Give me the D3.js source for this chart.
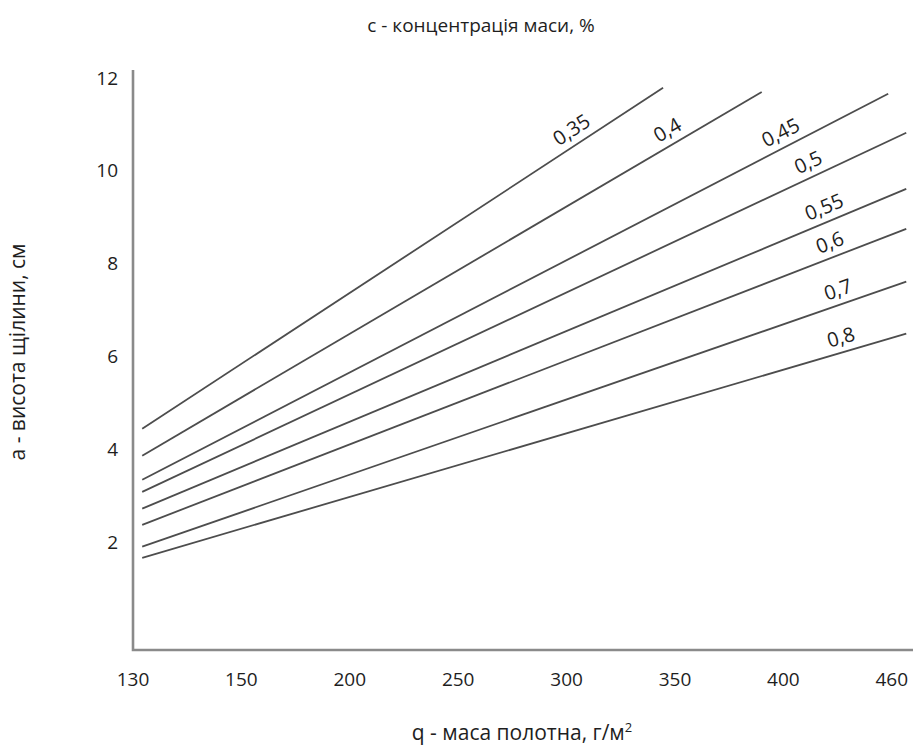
<!DOCTYPE html>
<html>
<head>
<meta charset="utf-8">
<script src="https://cdn.jsdelivr.net/npm/d3@7"></script>
<style>
  body { margin: 0; background: #fff; }
  svg { display: block; font-family: "Open Sans", "Noto Sans", sans-serif; }
</style>
</head>
<body>
<svg width="914" height="748"></svg>
<script>
// q ticks (evenly spaced on the axis even though values are not)
const qTicks = [130, 150, 200, 250, 300, 350, 400, 460]
const aTicks = [2, 4, 6, 8, 10, 12]

// concentration series, each line from (qStart, aStart) to (qEnd, aEnd)
const concLabels = ['0,35', '0,4', '0,45', '0,5', '0,55', '0,6', '0,7', '0,8']
const qStart = [131.7, 131.7, 131.7, 131.7, 131.7, 131.7, 131.7, 131.7]
const aStart = [4.44, 3.86, 3.34, 3.08, 2.72, 2.37, 1.90, 1.66]
const qEnd = [344.5, 390, 458, 468, 468, 468, 468, 468]
const aEnd = [11.79, 11.70, 11.66, 10.82, 9.61, 8.75, 7.61, 6.49]

const svg = d3.select('svg'),
    width = +svg.attr('width'),
    height = +svg.attr('height')

const margin = { left: 133, bottom: 650 }

// piecewise scale so that tick labels sit at equal intervals
const x = d3.scaleLinear()
    .domain(qTicks)
    .range(qTicks.map((d, i) => 133 + i * 108.4))

const y = d3.scaleLinear()
    .domain([0, 12])
    .range([634.8, 78])

// axes lines
svg.append('path')
    .attr('d', `M${margin.left},${y(12.17)} V${margin.bottom} H${width - 1}`)
    .attr('fill', 'none')
    .attr('stroke', '#8a8a8a')
    .attr('stroke-width', 2.6)

// tick labels
svg.append('g')
    .selectAll('text')
    .data(qTicks)
    .enter()
    .append('text')
    .attr('x', d => x(d))
    .attr('y', 686)
    .attr('text-anchor', 'middle')
    .attr('font-size', 19)
    .attr('font-weight', 500)
    .attr('fill', '#1e1e1e')
    .text(d => d)

svg.append('g')
    .selectAll('text')
    .data(aTicks)
    .enter()
    .append('text')
    .attr('x', 118)
    .attr('y', d => y(d))
    .attr('dy', '0.35em')
    .attr('text-anchor', 'end')
    .attr('font-size', 19)
    .attr('font-weight', 500)
    .attr('fill', '#1e1e1e')
    .text(d => d)

// lines
const series = concLabels.map((c, i) => ({
    label: c,
    x1: x(qStart[i]), y1: y(aStart[i]),
    x2: x(qEnd[i]), y2: y(aEnd[i])
}))

svg.append('g')
    .selectAll('line')
    .data(series)
    .enter()
    .append('line')
    .attr('x1', d => d.x1)
    .attr('y1', d => d.y1)
    .attr('x2', d => d.x2)
    .attr('y2', d => d.y2)
    .attr('stroke', '#4d4d4d')
    .attr('stroke-width', 1.8)

// labels sit along each line near its end
const labelFrac = [0.84, 0.86, 0.865, 0.88, 0.9, 0.907, 0.917, 0.92]
svg.append('g')
    .selectAll('text')
    .data(series)
    .enter()
    .append('text')
    .attr('transform', (d, i) => {
        const px = d.x1 + (d.x2 - d.x1) * labelFrac[i]
        const py = d.y1 + (d.y2 - d.y1) * labelFrac[i]
        const ang = Math.atan2(d.y2 - d.y1, d.x2 - d.x1) * 180 / Math.PI
        return `translate(${px},${py}) rotate(${ang})`
    })
    .attr('y', -8)
    .attr('text-anchor', 'middle')
    .attr('font-size', 20)
    .attr('font-weight', 500)
    .attr('fill', '#1e1e1e')
    .text(d => d.label)

// titles
svg.append('text')
    .attr('x', 481)
    .attr('y', 32)
    .attr('text-anchor', 'middle')
    .attr('font-size', 19)
    .attr('font-weight', 500)
    .attr('fill', '#1e1e1e')
    .text('c - концентрація маси, %')

svg.append('text')
    .attr('x', 522)
    .attr('y', 740)
    .attr('text-anchor', 'middle')
    .attr('font-size', 21)
    .attr('font-weight', 500)
    .attr('fill', '#1e1e1e')
    .html('q - маса полотна, г/м<tspan dy="-8" font-size="13">2</tspan>')

svg.append('text')
    .attr('transform', 'translate(25,352) rotate(-90)')
    .attr('text-anchor', 'middle')
    .attr('font-size', 21)
    .attr('font-weight', 500)
    .attr('fill', '#1e1e1e')
    .text('а - висота щілини, см')
</script>
</body>
</html>
